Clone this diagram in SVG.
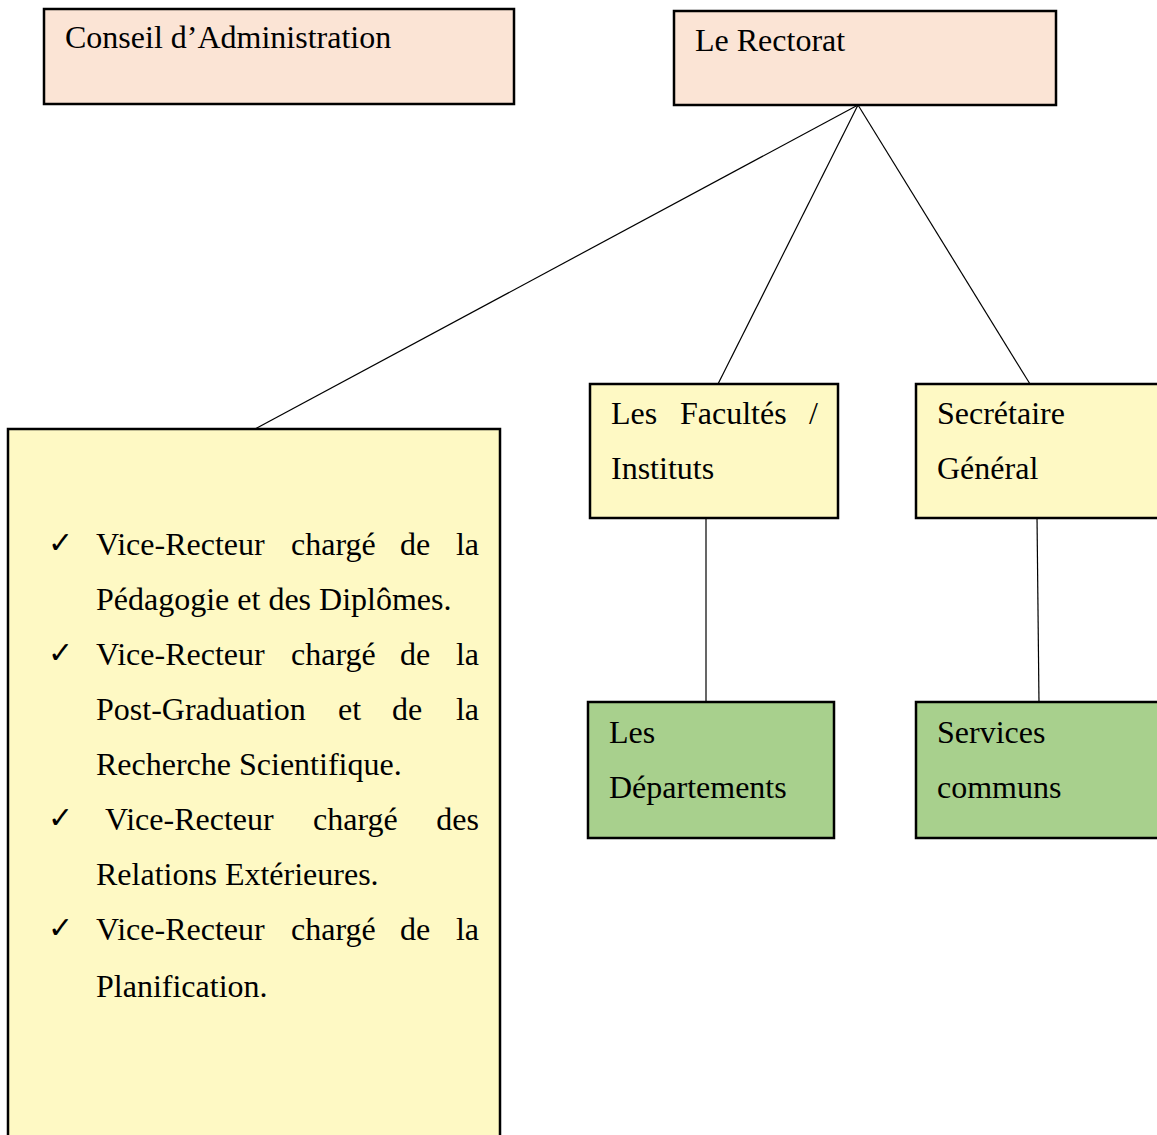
<svg xmlns="http://www.w3.org/2000/svg" width="1157" height="1135" viewBox="0 0 1157 1135">
<style>
.peach{fill:#FBE4D5;stroke:#000;stroke-width:2.5}
.yel{fill:#FEF9C4;stroke:#000;stroke-width:2.5}
.grn{fill:#A8D08D;stroke:#000;stroke-width:2.5}
text{font-family:"Liberation Serif","Times New Roman",serif;font-size:32px;fill:#000}
.ck{font-family:"DejaVu Sans",sans-serif;font-size:30px}
.r{text-anchor:end}
#connectors line{stroke:#000;stroke-width:1.2}
</style>
<rect width="1157" height="1135" fill="#fff"/>
<g id="connectors">
<line x1="858" y1="105" x2="255" y2="429"/>
<line x1="858" y1="105" x2="718" y2="384"/>
<line x1="858" y1="105" x2="1030" y2="384"/>
<line x1="706" y1="518" x2="706" y2="702"/>
<line x1="1037" y1="516" x2="1039" y2="704"/>
</g>
<g id="conseil">
<rect class="peach" x="44" y="9" width="470" height="95"/>
<text x="65" y="48">Conseil d’Administration</text>
</g>
<g id="rectorat">
<rect class="peach" x="674" y="11" width="382" height="94"/>
<text x="695" y="51">Le Rectorat</text>
</g>
<g id="vice-recteurs">
<rect class="yel" x="8" y="429" width="492" height="720"/>
<text class="ck" x="48" y="553">✓</text>
<text x="96" y="555">Vice-Recteur</text><text x="291" y="555">chargé</text><text x="400" y="555">de</text><text class="r" x="479" y="555">la</text>
<text x="96" y="610">Pédagogie et des Diplômes.</text>
<text class="ck" x="48" y="663">✓</text>
<text x="96" y="665">Vice-Recteur</text><text x="291" y="665">chargé</text><text x="400" y="665">de</text><text class="r" x="479" y="665">la</text>
<text x="96" y="720">Post-Graduation</text><text x="338" y="720">et</text><text x="392" y="720">de</text><text class="r" x="479" y="720">la</text>
<text x="96" y="775">Recherche Scientifique.</text>
<text class="ck" x="48" y="828">✓</text>
<text x="105" y="830">Vice-Recteur</text><text x="313" y="830">chargé</text><text class="r" x="479" y="830">des</text>
<text x="96" y="885">Relations Extérieures.</text>
<text class="ck" x="48" y="938">✓</text>
<text x="96" y="940">Vice-Recteur</text><text x="291" y="940">chargé</text><text x="400" y="940">de</text><text class="r" x="479" y="940">la</text>
<text x="96" y="997">Planification.</text>
</g>
<g id="facultes">
<rect class="yel" x="590" y="384" width="248" height="134"/>
<text x="611" y="424">Les</text><text x="680" y="424">Facultés</text><text class="r" x="818" y="424">/</text>
<text x="611" y="479">Instituts</text>
</g>
<g id="secretaire">
<rect class="yel" x="916" y="384" width="260" height="134"/>
<text x="937" y="424">Secrétaire</text>
<text x="937" y="479">Général</text>
</g>
<g id="departements">
<rect class="grn" x="588" y="702" width="246" height="136"/>
<text x="609" y="743">Les</text>
<text x="609" y="798">Départements</text>
</g>
<g id="services">
<rect class="grn" x="916" y="702" width="260" height="136"/>
<text x="937" y="743">Services</text>
<text x="937" y="798">communs</text>
</g>
</svg>
